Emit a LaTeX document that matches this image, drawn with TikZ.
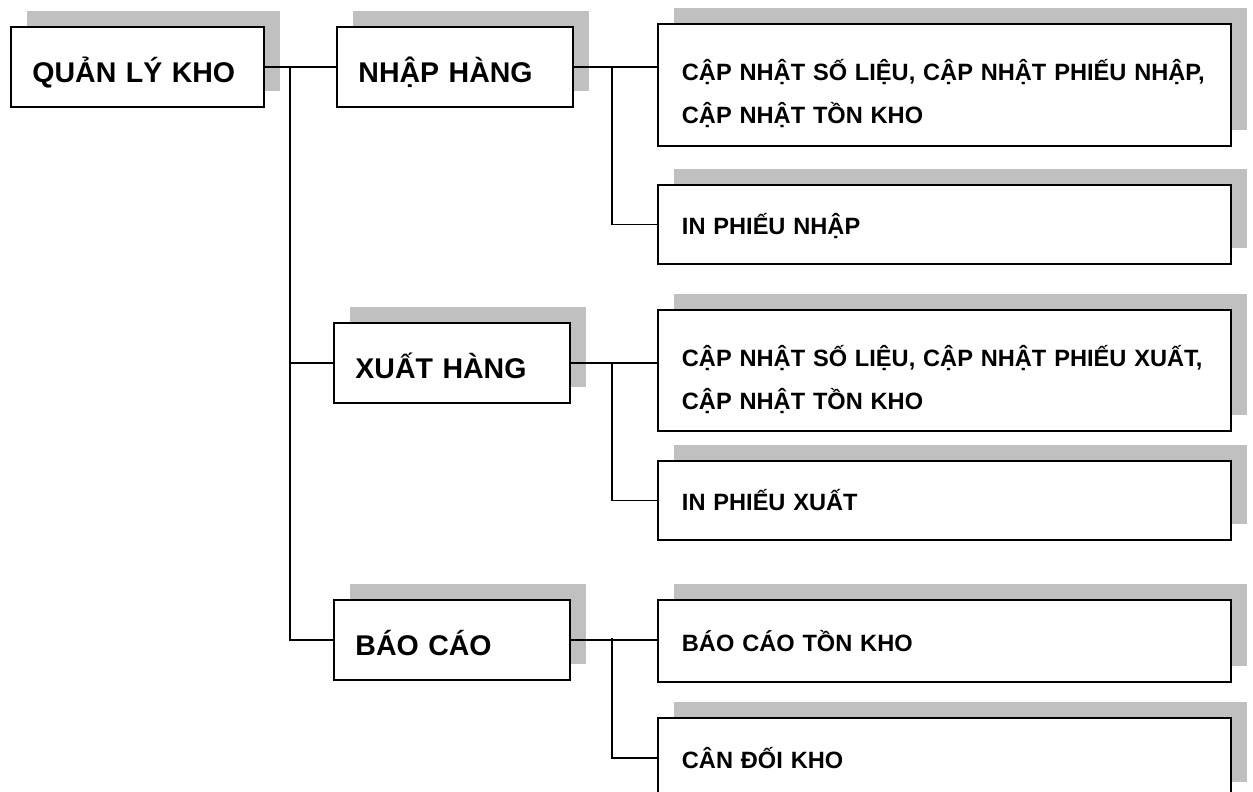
\documentclass[tikz,border=0pt]{standalone}
\usepackage{fontspec}
\setmainfont{Liberation Sans}
\usetikzlibrary{shadows}
\definecolor{shgray}{RGB}{192,192,192}
\begin{document}
\begin{tikzpicture}[x=1pt,y=-1pt,
  box/.style={draw=black, line width=1.9pt, fill=white, rectangle, anchor=north west, inner ysep=0pt,
    drop shadow={shadow xshift=16pt, shadow yshift=16pt, fill=shgray, opacity=1}},
  parent/.style={box, minimum width=236pt, minimum height=80pt, inner xsep=21.5pt, text width=193pt,
    align=left, text height=31pt, text depth=0pt, font=\fontsize{28.5}{34}\selectfont\bfseries},
  child/.style={box, minimum width=573pt, inner xsep=24pt, text width=525pt, align=left,
    font=\fontsize{23.6}{43}\selectfont\bfseries},
  one/.style={child, text height=21pt, text depth=0pt},
  two/.style={child, text height=0pt, text depth=8pt},
  link/.style={line width=1.6pt, draw=black}
]
\useasboundingbox (0,0) rectangle (1253,792);

\node[parent, minimum width=253pt, text width=210pt] (Q) at (10,26) {QUẢN LÝ KHO};
\node[parent] (N) at (336,26) {NHẬP HÀNG};
\node[parent] (X) at (333,322) {XUẤT HÀNG};
\node[parent] (B) at (333,599) {BÁO CÁO};

\node[two, minimum height=122pt] (c1) at (657,23) {\mbox{CẬP NHẬT SỐ LIỆU, CẬP NHẬT PHIẾU NHẬP,}\\CẬP NHẬT TỒN KHO};
\node[one, minimum height=79pt] (c2) at (657,184) {IN PHIẾU NHẬP};
\node[two, minimum height=121pt] (c3) at (657,309) {\mbox{CẬP NHẬT SỐ LIỆU, CẬP NHẬT PHIẾU XUẤT,}\\CẬP NHẬT TỒN KHO};
\node[one, minimum height=79pt] (c4) at (657,460) {IN PHIẾU XUẤT};
\node[one, minimum height=82pt] (c5) at (657,599) {BÁO CÁO TỒN KHO};
\node[one, minimum height=80pt] (c6) at (657,717) {CÂN ĐỐI KHO};

\coordinate (t) at (290,66);
\coordinate (jN) at (612,66);
\coordinate (jX) at (612,362);
\coordinate (jB) at (612,638);

\draw[link] (Q.east) -- (N.west);
\draw[link] (t) |- (B.west);
\draw[link] (t |- X.west) -- (X.west);

\draw[link] (N.east) -- (N.east -| c1.west);
\draw[link] (jN) |- (c2.west);
\draw[link] (X.east) -- (X.east -| c3.west);
\draw[link] (jX) |- (c4.west);
\draw[link] (B.east) -- (B.east -| c5.west);
\draw[link] (jB) |- (c6.west);
\end{tikzpicture}
\end{document}
